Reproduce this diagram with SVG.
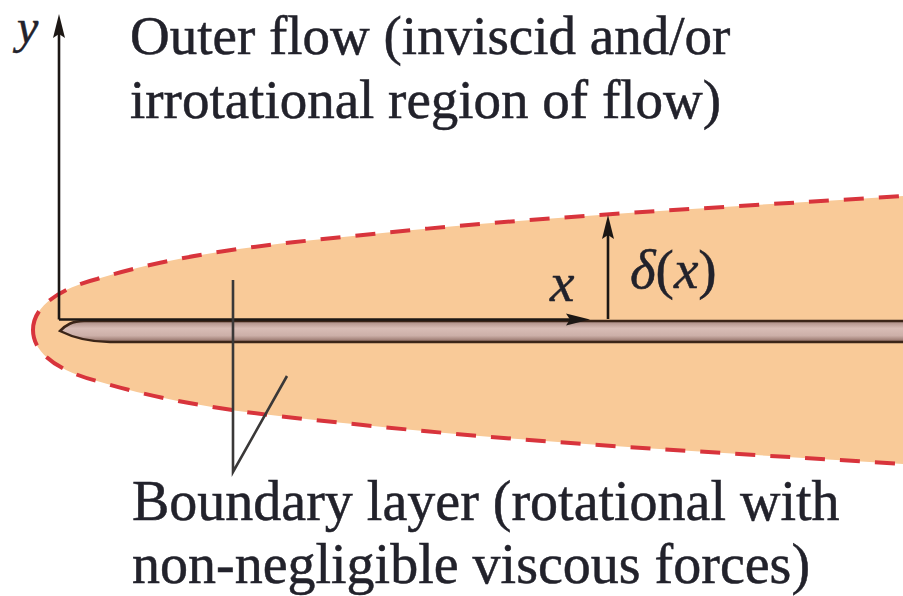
<svg xmlns="http://www.w3.org/2000/svg" width="903" height="596" viewBox="0 0 903 596">
  <style>
    .lbl { font-family: "Liberation Serif", "Times New Roman", serif; font-size: 55px; fill: #22222b; stroke: #22222b; stroke-width: 0.5; }
    .lbl2 { font-size: 56px; }
    .sym { font-family: "Liberation Serif", "Times New Roman", serif; font-style: italic; fill: #22222b; stroke: #22222b; stroke-width: 0.5; }
    .axis { stroke: #1c1714; stroke-width: 2.6; fill: none; }
    .leader { stroke: #3a3838; stroke-width: 2.6; fill: none; stroke-linejoin: miter; }
  </style>
  <defs>
    <marker id="arrow" markerUnits="userSpaceOnUse" markerWidth="26" markerHeight="16" refX="14" refY="7" orient="auto">
      <path d="M0,1 L24,7 L0,13 L4,7 Z" fill="#1c1714"/>
    </marker>
    <linearGradient id="plateGrad" x1="0" y1="0" x2="0" y2="1">
      <stop offset="0" stop-color="#a88880"/>
      <stop offset="0.35" stop-color="#d8bdb6"/>
      <stop offset="0.7" stop-color="#ccafa8"/>
      <stop offset="1" stop-color="#8c6a60"/>
    </linearGradient>
  </defs>
  <rect width="903" height="596" fill="#ffffff"/>

  <g id="boundary-layer">
    <path d="M33,330 C33,305 62,288 97,279 C186,252 274,244 363,235 C543,216 723,207.5 910,195.5 L910,464.5 C723,452.5 543,444 363,425 C274,416 186,408 97,381 C62,372 33,355 33,330 Z"
          fill="#f9ca98" stroke="#d8343c" stroke-width="4" stroke-dasharray="20 15"/>
  </g>

  <g id="plate">
    <path d="M60,331 C66,325 72,321 84,321 L910,321 L910,342 L110,342 C90,342 72,337 60,331 Z"
          fill="url(#plateGrad)" stroke="#3b2518" stroke-width="2.5"/>
  </g>

  <g id="axes">
    <polyline class="axis" points="59,319.5 580,319.5" marker-end="url(#arrow)"/>
    <line class="axis" x1="59" y1="319.5" x2="59" y2="24" marker-end="url(#arrow)"/>
    <text class="sym" x="17" y="43" font-size="48">y</text>
    <text class="sym" x="550" y="301" font-size="55">x</text>
  </g>

  <g id="delta">
    <line class="axis" x1="608" y1="319" x2="608" y2="225" marker-end="url(#arrow)"/>
    <text class="lbl" x="630" y="288"><tspan font-style="italic">δ</tspan>(<tspan font-style="italic">x</tspan>)</text>
  </g>

  <g id="outer-flow-label">
    <text class="lbl" x="130" y="54">Outer flow (inviscid and/or</text>
    <text class="lbl" x="130" y="118">irrotational region of flow)</text>
  </g>

  <g id="boundary-layer-label">
    <text class="lbl lbl2" x="132" y="520">Boundary layer (rotational with</text>
    <text class="lbl lbl2" x="132" y="583">non-negligible viscous forces)</text>
  </g>

  <g id="connectors">
    <path class="leader" d="M233,280 L233,472 L287,376"/>
  </g>
</svg>
